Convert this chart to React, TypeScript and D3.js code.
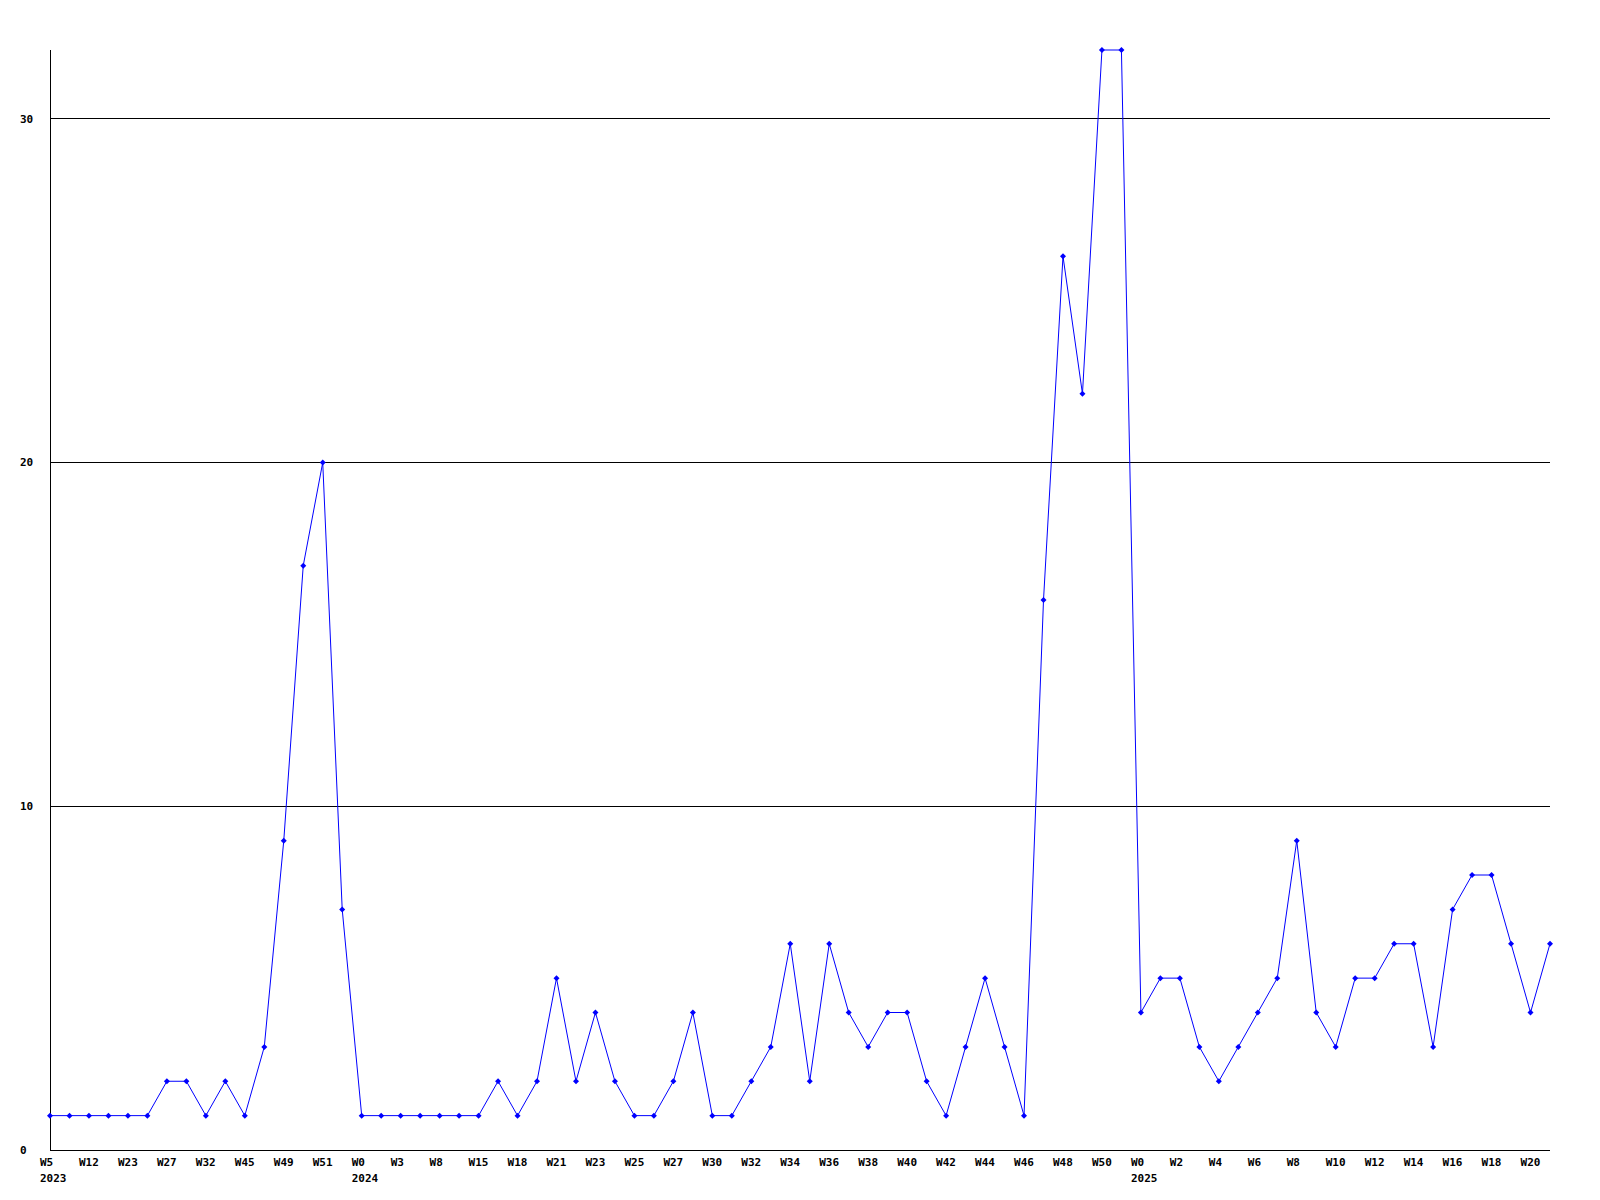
import React, { useEffect } from "react";
import * as d3 from "d3";

const values: number[] = [
  1, 1, 1, 1, 1, 1, 2, 2, 1, 2, 1, 3, 9, 17, 20, 7,
  1, 1, 1, 1, 1, 1, 1, 2, 1, 2, 5, 2, 4, 2, 1, 1, 2, 4, 1, 1, 2, 3, 6, 2, 6, 4, 3, 4, 4, 2, 1, 3, 5, 3, 1, 16, 26, 22, 32, 32,
  4, 5, 5, 3, 2, 3, 4, 5, 9, 4, 3, 5, 5, 6, 6, 3, 7, 8, 8, 6, 4, 6,
];

// labels shown every second point
const weekLabels: string[] = [
  "W5", "W12", "W23", "W27", "W32", "W45", "W49", "W51",
  "W0", "W3", "W8", "W15", "W18", "W21", "W23", "W25", "W27", "W30", "W32", "W34",
  "W36", "W38", "W40", "W42", "W44", "W46", "W48", "W50",
  "W0", "W2", "W4", "W6", "W8", "W10", "W12", "W14", "W16", "W18", "W20",
];

const yearLabels: { index: number; year: string }[] = [
  { index: 0, year: "2023" },
  { index: 16, year: "2024" },
  { index: 56, year: "2025" },
];

const yTicks: number[] = [0, 10, 20, 30];

export default function App() {
  useEffect(() => {
    document.body.style.margin = "0";
  }, []);

  const W = 1600;
  const H = 1200;
  const x = d3
    .scalePoint<number>()
    .domain(values.map((_, i) => i))
    .range([50, 1550]);
  const y = d3.scaleLinear().domain([0, 32]).range([1150, 50]);
  const px = (v: number) => Math.floor(v) + 0.5;

  const line = d3
    .line<number>()
    .x((_, i) => x(i) as number)
    .y((d) => y(d));

  const font = "'DejaVu Sans Mono', 'Liberation Mono', monospace";

  return (
    <svg
      width={W}
      height={H}
      viewBox={`0 0 ${W} ${H}`}
      style={{ display: "block", position: "absolute", left: 0, top: 0, background: "#fff" }}
    >
      <rect x={0} y={0} width={W} height={H} fill="#fff" />
      {/* gridlines */}
      {yTicks
        .filter((t) => t > 0)
        .map((t) => (
          <line
            key={t}
            x1={50}
            x2={1550}
            y1={px(y(t))}
            y2={px(y(t))}
            stroke="#000"
            strokeWidth={1}
            shapeRendering="crispEdges"
          />
        ))}
      {/* axes */}
      <line x1={50.5} x2={50.5} y1={50} y2={1151} stroke="#000" shapeRendering="crispEdges" />
      <line x1={50} x2={1550} y1={1150.5} y2={1150.5} stroke="#000" shapeRendering="crispEdges" />
      {/* y labels */}
      {yTicks.map((t) => (
        <text
          key={t}
          x={20}
          y={y(t)}
          dy="0.36em"
          fontFamily={font}
          fontWeight="bold"
          fontSize={11}
          fill="#000"
        >
          {t}
        </text>
      ))}
      {/* x labels */}
      {weekLabels.map((lab, k) => (
        <text
          key={k}
          x={(x(k * 2) as number) - 10}
          y={1166}
          fontFamily={font}
          fontWeight="bold"
          fontSize={11}
          fill="#000"
        >
          {lab}
        </text>
      ))}
      {yearLabels.map((yl) => (
        <text
          key={yl.year}
          x={(x(yl.index) as number) - 10}
          y={1182}
          fontFamily={font}
          fontWeight="bold"
          fontSize={11}
          fill="#000"
        >
          {yl.year}
        </text>
      ))}
      {/* series */}
      <path d={line(values) || ""} fill="none" stroke="#0000ff" strokeWidth={1} />
      {values.map((v, i) => {
        const cx = x(i) as number;
        const cy = y(v);
        return (
          <path
            key={i}
            d={`M${cx - 3},${cy} L${cx},${cy - 3} L${cx + 3},${cy} L${cx},${cy + 3} Z`}
            fill="#0000ff"
          />
        );
      })}
    </svg>
  );
}
